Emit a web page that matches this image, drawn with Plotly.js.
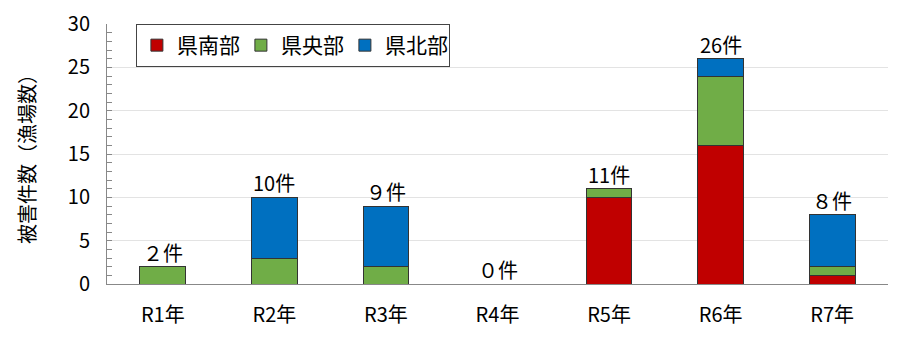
<!DOCTYPE html>
<html><head><meta charset="utf-8">
<script src="https://cdn.plot.ly/plotly-3.0.1.min.js"></script>
<style>body{margin:0;background:#fff}#c{width:908px;height:337px}</style>
</head><body><div id="c"></div>
<script>
const categories = ["R1年","R2年","R3年","R4年","R5年","R6年","R7年"];
const south = [0,0,0,0,10,16,1];
const central = [2,3,2,0,1,8,1];
const north = [0,7,7,0,0,2,6];
const totalLabels = ["２件","10件","９件","０件","11件","26件","８件"];
const seriesNames = ["県南部","県央部","県北部"];
const colors = ["#C00000","#70AD47","#0070C0"];

const font = "Noto Sans CJK JP, sans-serif";
const data = [south, central, north].map((v,i)=>({
  type:"bar", x:categories, y:v, name:seriesNames[i],
  marker:{color:colors[i], line:{color:"#333", width:1}}, width:0.41
}));
const totals = categories.map((c,i)=>south[i]+central[i]+north[i]);
const annotations = categories.map((c,i)=>({
  x:c, y:totals[i], text:totalLabels[i], showarrow:false, yanchor:"bottom", yshift:-2,
  font:{family:font, size:20, color:"#000"}
}));
const layout = {
  width:908, height:337, margin:{l:107,r:20,t:24,b:53},
  paper_bgcolor:"#fff", plot_bgcolor:"#fff",
  barmode:"stack", bargap:0.59,
  showlegend:true,
  legend:{orientation:"h", x:0.037, y:1.0, xanchor:"left", yanchor:"top",
    bordercolor:"#444", borderwidth:1, bgcolor:"#fff",
    font:{family:font, size:21, color:"#000"}, traceorder:"normal", itemwidth:30,
    entrywidth:59, tracegroupgap:0},
  xaxis:{showline:true, linecolor:"#888", linewidth:1, ticks:"", showgrid:false,
    tickfont:{family:font, size:20, color:"#000"}, ticklabelstandoff:13},
  yaxis:{range:[0,30], dtick:5, showline:true, linecolor:"#888", linewidth:1,
    gridcolor:"#e3e3e3", gridwidth:1, zeroline:false,
    ticks:"inside", ticklen:5, tickcolor:"#888", ticklabelstandoff:12,
    minor:{dtick:1, ticks:"inside", ticklen:5, tickcolor:"#888", showgrid:false},
    tickfont:{family:font, size:20, color:"#000"},
    title:{text:"被害件数（漁場数）", font:{family:font, size:20, color:"#000"}, standoff:26}},
  annotations:annotations
};
Plotly.newPlot("c", data, layout, {staticPlot:true});
</script></body></html>
